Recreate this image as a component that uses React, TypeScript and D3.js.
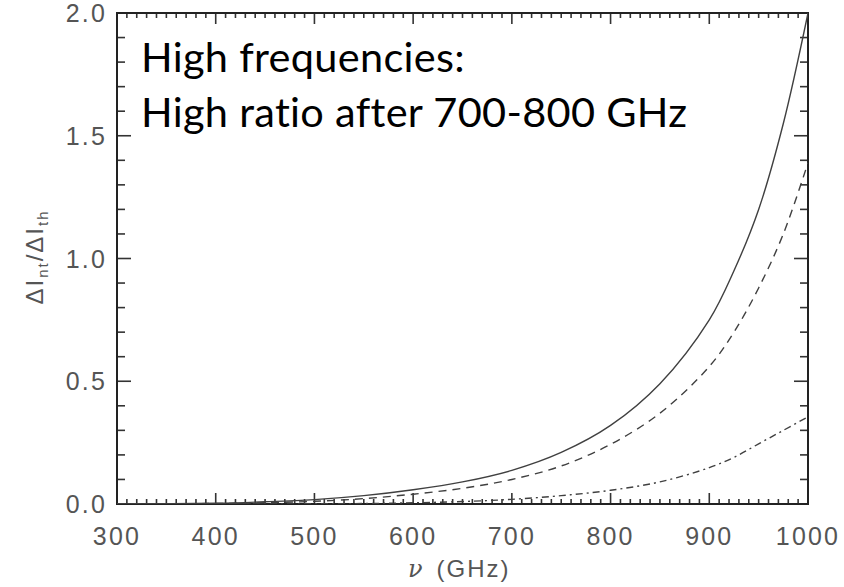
import React from "react";
import * as d3 from "d3";

const freqs = [300, 400, 450, 500, 550, 600, 650, 700, 750, 800, 850, 900, 925, 950, 975, 1000];
const solidVals = [0.0, 0.003, 0.009, 0.018, 0.034, 0.058, 0.09, 0.137, 0.21, 0.32, 0.49, 0.75, 0.95, 1.2, 1.55, 2.0];
const dashedVals = [0.0, 0.002, 0.005, 0.011, 0.022, 0.04, 0.064, 0.1, 0.155, 0.243, 0.37, 0.56, 0.7, 0.88, 1.1, 1.39];
const dashDotVals = [0.0, 0.0, 0.0, 0.001, 0.002, 0.005, 0.01, 0.019, 0.034, 0.056, 0.09, 0.148, 0.19, 0.245, 0.3, 0.355];

const xTickLabels = [300, 400, 500, 600, 700, 800, 900, 1000];
const yTickLabels = [0.0, 0.5, 1.0, 1.5, 2.0];
const annotationLines = ["High frequencies:", "High ratio after 700-800 GHz"];

const W = 844, H = 587;
const L = 117, R = 808, T = 13, B = 504;

export default function App() {
  const x = d3.scaleLinear().domain([300, 1000]).range([L, R]);
  const y = d3.scaleLinear().domain([0, 2]).range([B, T]);

  const mk = (vals: number[]) =>
    d3.line<number>()
      .x((_, i) => x(freqs[i]))
      .y((d) => y(d))
      .curve(d3.curveCatmullRom.alpha(0.5))(vals) || "";

  const xMinor = d3.range(300, 1000.1, 10);
  const yMinor = d3.range(0, 2.001, 0.1);
  const tickColor = "#333";
  const labelColor = "#555";
  const sans = "'Liberation Sans', Arial, sans-serif";

  return (
    <svg width={W} height={H} style={{ position: "absolute", left: 0, top: 0, background: "#fff" }}>
      <defs>
        <clipPath id="plotclip">
          <rect x={L} y={T} width={R - L} height={B - T} />
        </clipPath>
      </defs>
      {xMinor.map((v, i) => {
        const major = Math.abs(v % 100) < 0.01;
        const len = major ? 11 : 5;
        return (
          <g key={"xt" + i} stroke={tickColor} strokeWidth={1.6}>
            <line x1={x(v)} x2={x(v)} y1={B} y2={B - len} />
            <line x1={x(v)} x2={x(v)} y1={T} y2={T + len} />
          </g>
        );
      })}
      {yMinor.map((v, i) => {
        const major = Math.abs((v * 10) % 5) < 0.01 || Math.abs((v * 10) % 5 - 5) < 0.01;
        const len = major ? 14 : 8;
        return (
          <g key={"yt" + i} stroke={tickColor} strokeWidth={1.6}>
            <line x1={L} x2={L + len} y1={y(v)} y2={y(v)} />
            <line x1={R} x2={R - len} y1={y(v)} y2={y(v)} />
          </g>
        );
      })}
      <rect x={L} y={T} width={R - L} height={B - T} fill="none" stroke="#222" strokeWidth={2} />
      <g clipPath="url(#plotclip)" fill="none" stroke="#404040" strokeWidth={1.4}>
        <path d={mk(solidVals)} />
        <path d={mk(dashedVals)} strokeDasharray="8,6" />
        <path d={mk(dashDotVals)} strokeDasharray="7,4,2,4" />
      </g>
      {xTickLabels.map((v) => (
        <text key={"xl" + v} x={x(v)} y={545} textAnchor="middle" fontFamily={sans}
          fontSize={25} letterSpacing={2.2} fill={labelColor}>{v}</text>
      ))}
      {yTickLabels.map((v) => (
        <text key={"yl" + v} x={107} y={y(v) + 9} textAnchor="end" fontFamily={sans}
          fontSize={25} letterSpacing={2.2} fill={labelColor}>{v.toFixed(1)}</text>
      ))}
      <text x={408} y={577} fontFamily={sans} fontSize={24} letterSpacing={2} fill={labelColor}>
        <tspan fontStyle="italic" fontFamily="'DejaVu Serif', serif">ν</tspan>
        <tspan dx={12}>(GHz)</tspan>
      </text>
      <text transform="translate(43,257) rotate(-90)" textAnchor="middle" fontFamily={sans}
        fontSize={24} letterSpacing={2} fill={labelColor}>
        <tspan>ΔI</tspan>
        <tspan fontSize={15} dy={5}>nt</tspan>
        <tspan dy={-5}>/ΔI</tspan>
        <tspan fontSize={15} dy={5}>th</tspan>
      </text>
      {annotationLines.map((s, i) => (
        <text key={"an" + i} x={141} y={72 + i * 55} fontFamily="Lato, 'Open Sans', sans-serif" fontSize={41.5}
          letterSpacing={0.3} fill="#000" style={{ fontVariantLigatures: "none" }}>{s}</text>
      ))}
    </svg>
  );
}
